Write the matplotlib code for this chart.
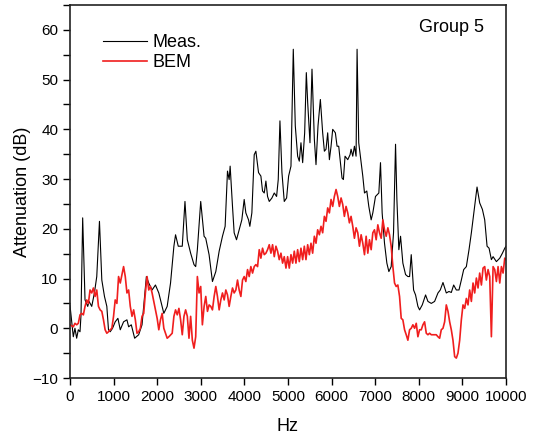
import matplotlib
matplotlib.use("Agg")
import matplotlib.pyplot as plt
from matplotlib.ticker import MultipleLocator

plt.rcParams['font.family'] = ['Liberation Sans', 'DejaVu Sans']

meas_hz = [0, 77, 115, 154, 192, 231, 254, 292, 346, 408, 438, 500, 561, 615, 677, 731, 792, 846,
           884, 923, 977, 1038, 1100, 1154, 1230, 1307, 1346, 1407, 1484, 1576, 1653, 1753, 1807,
           1884, 1961, 2038, 2153, 2230, 2307, 2384, 2422, 2484, 2576, 2638, 2692, 2768, 2845, 2884,
           2922, 2999, 3076, 3114, 3191, 3268, 3345, 3422, 3498, 3559, 3613, 3651, 3674, 3728, 3766,
           3820, 3881, 3942, 3996, 4034, 4096, 4126, 4172, 4226, 4264, 4325, 4379, 4417, 4456, 4494,
           4532, 4571, 4632, 4686, 4739, 4777, 4816, 4862, 4915, 4969, 5015, 5069, 5122, 5168, 5222,
           5260, 5298, 5337, 5383, 5421, 5452, 5505, 5551, 5605, 5643, 5689, 5743, 5796, 5835, 5873,
           5911, 5950, 5988, 6026, 6087, 6126, 6164, 6195, 6240, 6271, 6309, 6371, 6424, 6447, 6486,
           6524, 6562, 6585, 6623, 6678, 6716, 6755, 6808, 6854, 6908, 6946, 7007, 7084, 7122, 7160,
           7214, 7268, 7314, 7367, 7421, 7467, 7498, 7543, 7582, 7635, 7697, 7750, 7789, 7827, 7881,
           7926, 7980, 8018, 8080, 8156, 8210, 8287, 8363, 8440, 8493, 8555, 8631, 8692, 8746, 8800,
           8861, 8922, 8976, 9030, 9091, 9152, 9206, 9282, 9336, 9397, 9459, 9512, 9566, 9612, 9665,
           9704, 9780, 9857, 9918, 9972, 10000]
meas_db = [4.7, -1.7, 0.0, -2.0, -0.3, -0.7, 2.7, 22.2, 5.7, 4.4, 5.4, 4.4, 7.1, 10.4, 21.5, 9.7, 6.4, 4.4,
           -0.3, -0.7, 0.0, 1.3, 2.0, -0.3, 1.3, 1.7, 0.3, 0.7, -2.0, -1.3, 0.7, 10.4, 9.1,
           7.7, 8.7, 7.1, 3.0, 4.4, 9.1, 16.5, 18.8, 16.5, 16.5, 25.5, 17.8, 15.1, 12.8, 12.4,
           15.8, 25.5, 18.5, 18.1, 14.8, 9.4, 11.4, 15.5, 18.5, 20.5, 31.6, 29.9, 32.6, 24.5, 19.2,
           17.8, 19.8, 21.8, 25.9, 23.2, 21.8, 20.5, 23.2, 34.9, 35.6, 31.3, 30.6, 27.6, 27.2, 29.6,
           26.5, 25.5, 26.2, 27.2, 26.5, 29.9, 41.7, 31.3, 25.5, 26.2, 30.6, 32.6, 56.1, 40.7, 34.6,
           33.6, 37.3, 33.3, 39.3, 51.4, 45.4, 37.3, 52.1, 38.0, 32.9, 40.7, 46.0, 39.3, 35.6, 36.0,
           39.3, 33.9, 36.6, 40.0, 39.3, 36.6, 36.6, 33.9, 30.2, 29.9, 34.6, 33.9, 34.9, 36.0, 34.6,
           36.6, 34.6, 56.1, 37.3, 33.3, 30.6, 27.2, 27.6, 24.5, 21.8, 23.2, 26.5, 27.2, 33.3, 23.2,
           17.1, 13.1, 11.4, 12.4, 19.2, 37.0, 25.9, 15.8, 18.5, 13.1, 10.8, 10.4, 10.4, 14.8, 7.7,
           6.7, 4.4, 3.7, 4.7, 6.7, 5.4, 5.0, 5.4, 7.1, 7.7, 9.2, 7.1, 7.4, 7.2, 8.7,
           7.7, 7.7, 9.7, 11.8, 12.4, 15.8, 19.2, 24.5, 28.4, 25.2, 23.9, 21.8, 16.5, 16.1, 13.8,
           14.4, 13.4, 14.1, 15.1, 16.1, 16.5]

bem_hz = [0, 77, 115, 154, 192, 231, 269, 308, 346, 385, 423, 461, 500, 538, 577, 615, 654, 692, 731,
          769, 807, 846, 884, 923, 961, 1000, 1038, 1077, 1115, 1154, 1192, 1230, 1269, 1307, 1346,
          1384, 1423, 1461, 1500, 1538, 1576, 1615, 1653, 1692, 1730, 1769, 1807, 1846, 1884, 1923,
          1961, 2000, 2038, 2076, 2115, 2153, 2192, 2230, 2269, 2345, 2384, 2422, 2461, 2499, 2538,
          2576, 2615, 2653, 2692, 2730, 2768, 2807, 2845, 2884, 2922, 2961, 2999, 3037, 3077, 3115,
          3154, 3192, 3230, 3268, 3307, 3345, 3383, 3422, 3460, 3498, 3537, 3575, 3613, 3651, 3690,
          3728, 3766, 3805, 3843, 3881, 3920, 3958, 3996, 4034, 4073, 4111, 4149, 4188, 4226, 4264,
          4303, 4341, 4379, 4417, 4456, 4494, 4532, 4571, 4609, 4647, 4686, 4724, 4762, 4800, 4839,
          4877, 4915, 4954, 4992, 5030, 5069, 5107, 5145, 5183, 5222, 5260, 5298, 5337, 5375, 5413,
          5452, 5490, 5528, 5566, 5605, 5643, 5681, 5720, 5758, 5796, 5835, 5873, 5911, 5950, 5988,
          6026, 6064, 6103, 6141, 6179, 6218, 6256, 6294, 6332, 6371, 6409, 6447, 6486, 6524, 6562,
          6601, 6639, 6678, 6716, 6755, 6793, 6831, 6869, 6908, 6946, 6984, 7023, 7061, 7099, 7138,
          7176, 7214, 7252, 7291, 7329, 7367, 7406, 7444, 7482, 7520, 7559, 7597, 7635, 7674, 7712,
          7750, 7789, 7827, 7865, 7904, 7942, 7980, 8018, 8057, 8095, 8133, 8172, 8210, 8248, 8287,
          8325, 8363, 8401, 8440, 8478, 8516, 8555, 8593, 8631, 8670, 8708, 8746, 8784, 8823, 8861,
          8899, 8938, 8976, 9014, 9053, 9091, 9129, 9167, 9206, 9244, 9282, 9321, 9359, 9397, 9436,
          9474, 9512, 9550, 9589, 9627, 9665, 9704, 9742, 9780, 9818, 9857, 9895, 9933, 9972, 10000]
bem_db = [0.7, 0.3, 1.0, 0.7, 1.0, 2.7, 3.0, 2.7, 4.4, 5.7, 5.0, 7.7, 7.1, 8.1, 6.4, 7.7, 4.4, 3.7, 3.4,
          1.7, -0.3, -1.0, -0.7, -0.3, 0.0, 2.4, 5.7, 5.0, 10.4, 9.1, 10.8, 12.4, 10.4, 7.1, 7.7,
          4.4, 2.4, 3.7, 1.7, -1.0, -0.7, 0.0, 2.4, 3.0, 7.1, 10.4, 7.7, 8.4, 7.1, 5.4,
          3.7, 2.0, -0.3, 1.7, 3.0, 0.0, -1.0, -2.0, -1.7, -1.0, 2.4, 3.7, 2.7, 4.0, 1.7,
          -1.3, 2.4, 3.7, 2.4, -2.0, 2.4, -2.4, -4.0, -1.7, 10.4, 7.1, 8.4, 0.7, 4.4, 6.4,
          3.4, 4.7, 4.4, 3.7, 6.4, 8.4, 6.4, 3.7, 5.7, 7.1, 5.7, 7.7, 6.7, 4.4, 6.4,
          8.1, 7.1, 7.7, 9.7, 7.7, 6.4, 9.7, 10.4, 9.4, 11.8, 10.4, 12.4, 11.1, 12.4, 12.8,
          12.4, 15.8, 14.1, 16.1, 14.8, 15.1, 15.8, 16.8, 15.1, 16.8, 14.4, 16.5, 15.5, 13.8, 15.1,
          13.1, 14.4, 12.1, 14.4, 12.1, 14.8, 13.1, 15.5, 13.1, 15.8, 13.4, 16.1, 13.8, 16.5, 13.8,
          16.8, 14.8, 17.1, 15.1, 18.5, 17.1, 19.8, 18.8, 20.5, 19.2, 22.5, 21.5, 24.2, 23.2, 25.9,
          24.5, 26.5, 27.9, 26.5, 24.5, 26.2, 24.9, 22.5, 24.5, 23.2, 21.2, 22.5, 20.5, 18.1, 20.2,
          19.2, 16.5, 18.8, 17.1, 14.8, 18.5, 15.1, 17.8, 15.8, 19.2, 19.8, 17.8, 20.8, 19.2, 18.1,
          21.8, 19.8, 18.5, 20.2, 18.8, 16.5, 12.4, 9.1, 8.4, 8.7, 6.4, 2.0, 1.7, -0.3, -1.3,
          -2.4, -0.3, 0.0, 0.7, 0.0, 1.0, -1.7, -0.3, -0.3, 0.7, 1.3, -1.0, -1.3, -1.0, -1.3,
          -1.3, -1.3, -1.3, -1.7, -2.0, -0.3, 0.0, 1.3, 4.7, 3.4, 1.3, -0.3, -2.4, -5.7, -6.0,
          -5.0, -2.4, 1.7, 4.7, 4.0, 6.0, 4.7, 7.7, 5.4, 9.1, 7.1, 10.1, 8.1, 11.1, 8.7,
          12.1, 12.4, 9.7, 11.8, 10.4, -1.7, 12.4, 11.8, 9.4, 12.4, 9.1, 12.4, 11.1, 14.1, 13.8]

series_labels = ["Meas.", "BEM"]
x_ticks = list(range(0, 10001, 1000))
y_ticks = list(range(-10, 61, 10))

fig = plt.figure(figsize=(5.38, 4.34), dpi=100)
ax = fig.add_axes([0.130, 0.129, 0.8105, 0.8595])

ax.plot(meas_hz, meas_db, color='black', lw=0.8, label=series_labels[0])
ax.plot(bem_hz, bem_db, color='#f01e1e', lw=1.2, label=series_labels[1])

ax.set_xlim(0, 10000)
ax.set_ylim(-10, 65)
ax.set_xticks(x_ticks)
ax.set_yticks(y_ticks)
ax.yaxis.set_minor_locator(MultipleLocator(5))
ax.tick_params(axis='both', which='both', direction='out', top=False, right=False,
               labelsize=11, width=1.0)
ax.tick_params(axis='both', which='major', length=5)
ax.tick_params(axis='y', which='minor', length=5)
for sp in ax.spines.values():
    sp.set_linewidth(1.2)
    sp.set_color('#222222')

ax.set_xlabel("Hz", fontsize=13, labelpad=10)
ax.set_ylabel("Attenuation (dB)", fontsize=13, labelpad=1)

ax.legend(loc='upper left', bbox_to_anchor=(0.06, 0.942), frameon=False, fontsize=13,
          handlelength=2.4, handletextpad=0.3, labelspacing=0.2, borderaxespad=0)
ax.text(0.95, 0.94, "Group 5", transform=ax.transAxes, ha='right', va='center', fontsize=13)

fig.savefig("out.png", dpi=100)
